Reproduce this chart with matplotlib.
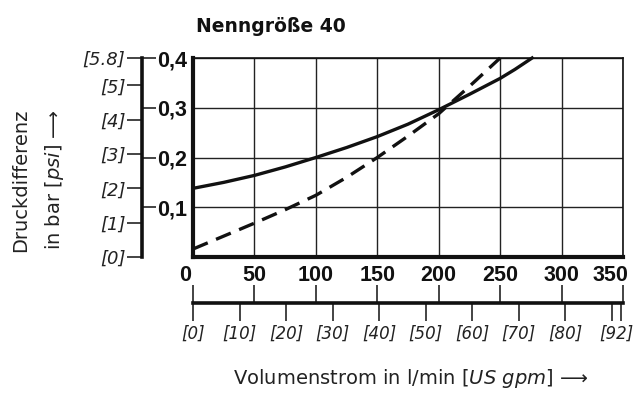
import matplotlib
matplotlib.use("Agg")
import numpy as np
import matplotlib.pyplot as plt
from matplotlib import transforms

# Data (flow in l/min, pressure difference in bar)
flow_solid = [0, 25, 50, 75, 100, 125, 150, 175, 200, 225, 250, 262, 276]
dp_solid = [0.138, 0.150, 0.164, 0.181, 0.200, 0.220, 0.242, 0.267, 0.296, 0.327, 0.359, 0.377, 0.400]

flow_dashed = [0, 25, 50, 75, 100, 125, 150, 175, 200, 225, 250]
dp_dashed = [0.016, 0.042, 0.068, 0.095, 0.124, 0.160, 0.200, 0.243, 0.288, 0.343, 0.400]

x_ticks = [0, 50, 100, 150, 200, 250, 300, 350]
y_ticks = [0.1, 0.2, 0.3, 0.4]
y_labels = ["0,1", "0,2", "0,3", "0,4"]
psi_ticks = [0, 1, 2, 3, 4, 5, 5.8]
psi_labels = ["[0]", "[1]", "[2]", "[3]", "[4]", "[5]", "[5.8]"]
gpm_ticks = [0, 10, 20, 30, 40, 50, 60, 70, 80, 90, 92]
gpm_labels = ["[0]", "[10]", "[20]", "[30]", "[40]", "[50]", "[60]", "[70]", "[80]", "", "[92]"]

BAR_TO_PSI = 14.5038
GPM_TO_LPM = 3.78541
num_font = "Liberation Sans"
ink = "#111111"

W, H = 634, 394
fig = plt.figure(figsize=(W / 100, H / 100), dpi=100)
x0, x1, y_top, y_bot = 193, 623, 58, 257
ax = fig.add_axes([x0 / W, 1 - y_bot / H, (x1 - x0) / W, (y_bot - y_top) / H])

ax.plot(flow_solid, dp_solid, color=ink, lw=2.4, clip_on=False)
ax.plot(flow_dashed, dp_dashed, color=ink, lw=2.4, dashes=(4.8, 2.7), clip_on=False)

ax.set_xlim(0, 350)
ax.set_ylim(0, 0.4)
ax.set_xticks(x_ticks)
ax.set_yticks(y_ticks)
ax.set_yticklabels(y_labels)
ax.grid(True, color="#222222", lw=1.0)
ax.set_axisbelow(True)
ax.tick_params(axis="both", length=0)
ax.tick_params(axis="x", pad=6)
ax.tick_params(axis="y", pad=4.5)
for lab in ax.get_xticklabels() + ax.get_yticklabels():
    lab.set_fontfamily(num_font)
    lab.set_fontweight("bold")
    lab.set_fontsize(15.5)
    lab.set_color(ink)

# first and last flow labels sit a bit left of their ticks
xlabs = ax.get_xticklabels()
xlabs[0].set_transform(xlabs[0].get_transform() + transforms.ScaledTranslation(-0.08, 0, fig.dpi_scale_trans))
xlabs[-1].set_transform(xlabs[-1].get_transform() + transforms.ScaledTranslation(-0.13, 0, fig.dpi_scale_trans))

ax.spines["left"].set_linewidth(3.0)
ax.spines["bottom"].set_linewidth(3.0)
ax.spines["top"].set_linewidth(1.2)
ax.spines["right"].set_linewidth(1.2)
for s in ax.spines.values():
    s.set_color(ink)

# psi axis left of the bar labels
psi_loc = -(x0 - 142) / (x1 - x0)
psi = ax.secondary_yaxis(psi_loc, functions=(lambda b: b * BAR_TO_PSI, lambda p: p / BAR_TO_PSI))
psi.set_yticks(psi_ticks)
psi.set_yticklabels(psi_labels)
psi.tick_params(axis="y", direction="out", length=11, width=1.1, pad=1, color=ink)
psi.spines["left"].set_linewidth(2.6)
psi.spines["left"].set_color(ink)
for lab in psi.get_yticklabels():
    lab.set_fontstyle("italic")
    lab.set_fontsize(13)
    lab.set_color("#222222")

# small bar ticks pointing right from the psi line
bar_marks = ax.secondary_yaxis(psi_loc)
bar_marks.set_yticks(y_ticks)
bar_marks.set_yticklabels([])
bar_marks.tick_params(axis="y", direction="in", length=10, width=1.1, color=ink)
bar_marks.spines["left"].set_visible(False)

# US gpm axis below
gpm_loc = -(302.7 - y_bot) / (y_bot - y_top)
gpm = ax.secondary_xaxis(gpm_loc, functions=(lambda q: q / GPM_TO_LPM, lambda g: g * GPM_TO_LPM))
gpm.set_xticks(gpm_ticks)
gpm.set_xticklabels(gpm_labels)
gpm.tick_params(axis="x", direction="out", length=13, width=1.1, pad=3, color=ink)
gpm.spines["bottom"].set_linewidth(2.6)
gpm.spines["bottom"].set_color(ink)
for lab in gpm.get_xticklabels():
    lab.set_fontstyle("italic")
    lab.set_fontsize(12)
    lab.set_color("#222222")
glabs = gpm.get_xticklabels()
glabs[-1].set_transform(glabs[-1].get_transform() + transforms.ScaledTranslation(-0.04, 0, fig.dpi_scale_trans))

lpm_marks = ax.secondary_xaxis(gpm_loc)
lpm_marks.set_xticks(x_ticks)
lpm_marks.set_xticklabels([])
lpm_marks.tick_params(axis="x", direction="in", length=13, width=1.1, color=ink)
lpm_marks.spines["bottom"].set_visible(False)

# texts
fig.text(196 / W, 1 - 26 / H, "Nenngröße 40", fontsize=13.5, fontweight="bold",
         ha="left", va="center", color=ink)
fig.text(411 / W, 1 - 378 / H, r"Volumenstrom in l/min $\mathit{[US\ gpm]}$ ⟶",
         fontsize=14, ha="center", va="center", color="#222222")
fig.text(21 / W, 1 - 180 / H, "Druckdifferenz", rotation=90, fontsize=14,
         ha="center", va="center", color="#222222")
fig.text(54 / W, 1 - 180 / H, r"in bar $\mathit{[psi]}$ ⟶", rotation=90, fontsize=14,
         ha="center", va="center", color="#222222")

fig.savefig("out.png", dpi=100)
